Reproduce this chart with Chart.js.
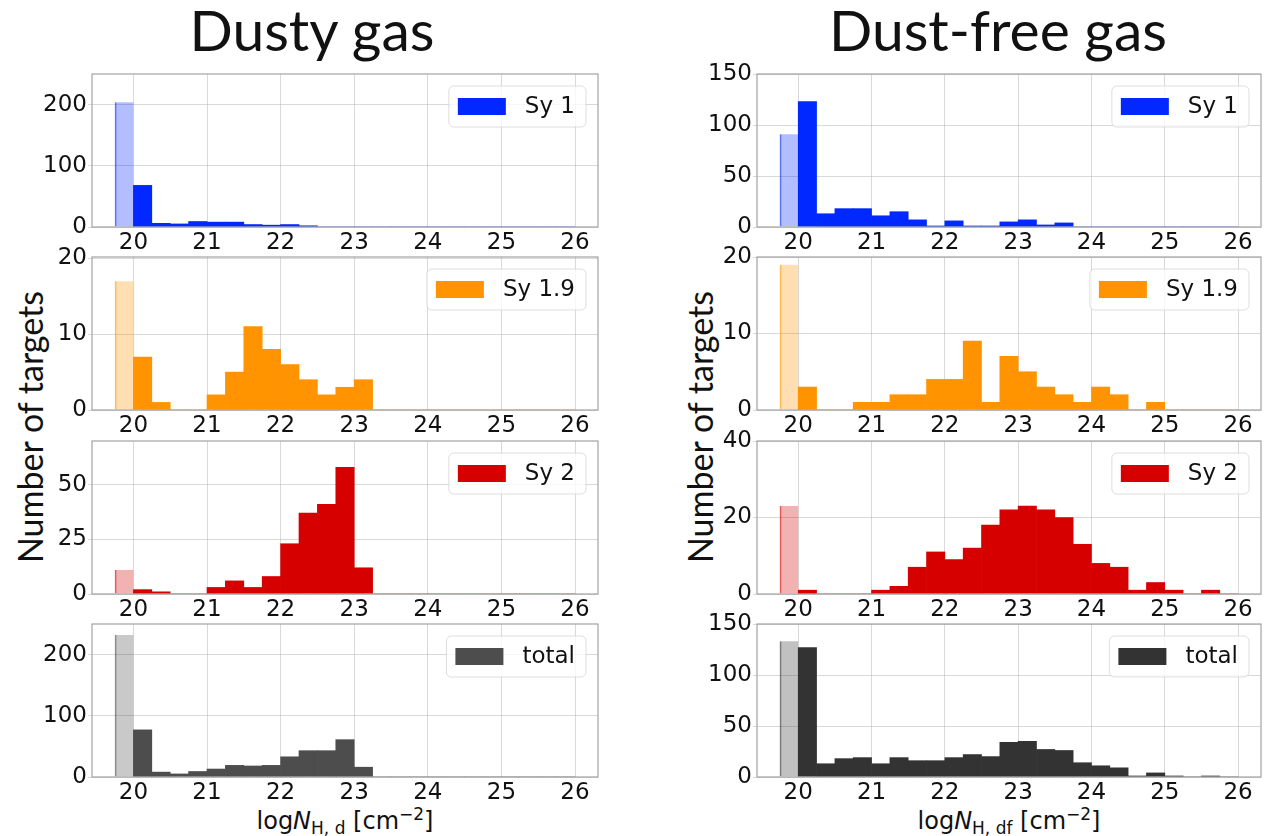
<!DOCTYPE html>
<html lang="en">
<head>
<meta charset="UTF-8">
<title>Column density histograms</title>
<script src="https://cdn.jsdelivr.net/npm/chart.js"></script>
<style>
    body {
        margin: 0;
        width: 1270px;
        height: 836px;
        position: relative;
        overflow: hidden;
        background: #fff;
        font-family: "DejaVu Sans", sans-serif;
        color: #111;
    }
    canvas { position: absolute; }
    .title {
        position: absolute;
        top: 1px;
        font-family: Lato, sans-serif;
        font-size: 57px;
        line-height: 57px;
        transform: translateX(-50%);
        white-space: nowrap;
    }
    .ylabel {
        position: absolute;
        font-family: Lato, sans-serif;
        font-size: 34px;
        line-height: 34px;
        transform: translate(-50%, -50%) rotate(-90deg);
        white-space: nowrap;
    }
    .xlabel {
        position: absolute;
        top: 799px;
        font-size: 24px;
        line-height: 30px;
        transform: translateX(-50%);
        white-space: nowrap;
    }
    .xlabel sub { font-size: 17px; vertical-align: -5px; }
    .xlabel sup { font-size: 17px; vertical-align: 9px; }
</style>
</head>
<body>
<div class="title" style="left:312px">Dusty gas</div>
<div class="title" style="left:998px">Dust-free gas</div>
<div class="ylabel" style="left:30px; top:427px">Number of targets</div>
<div class="ylabel" style="left:700px; top:427px">Number of targets</div>
<div class="xlabel" style="left:345px">log<i>N</i><sub>H, d</sub> [cm<sup>&minus;2</sup>]</div>
<div class="xlabel" style="left:1009px">log<i>N</i><sub>H, df</sub> [cm<sup>&minus;2</sup>]</div>

<script>
// histogram bins (0.25 dex), first bin holds the sources at the lower bound
const binEdges = [19.75, 20.0, 20.25, 20.5, 20.75, 21.0, 21.25, 21.5, 21.75, 22.0, 22.25, 22.5, 22.75,
                  23.0, 23.25, 23.5, 23.75, 24.0, 24.25, 24.5, 24.75, 25.0, 25.25, 25.5, 25.75, 26.0];
const xTickValues = [20, 21, 22, 23, 24, 25, 26];
const xRange = [19.4375, 26.3125];

const seriesLabels = ['Sy 1', 'Sy 1.9', 'Sy 2', 'total'];

// counts in the lowest bin (19.75-20), per class
const lowestBinDusty = [204, 17, 11, 232];
const lowestBinFree = [91, 19, 23, 133];

// counts in the bins from 20.0 to 26.0, dusty gas
const sy1Dusty   = [68, 6, 5, 9, 8, 8, 4, 3, 4, 2, 0, 0, 0, 0, 0, 0, 0, 0, 0, 0, 0, 0, 0, 0];
const sy19Dusty  = [7, 1, 0, 0, 2, 5, 11, 8, 6, 4, 2, 3, 4, 0, 0, 0, 0, 0, 0, 0, 0, 0, 0, 0];
const sy2Dusty   = [2, 1, 0, 0, 3, 6, 3, 8, 23, 37, 41, 58, 12, 0, 0, 0, 0, 0, 0, 0, 0, 0, 0, 0];
const totalDusty = [77, 8, 5, 9, 13, 19, 18, 19, 33, 43, 43, 61, 16, 0, 0, 0, 0, 0, 0, 0, 0, 0, 0, 0];

// same bins, dust-free gas
const sy1Free   = [123, 13, 18, 18, 11, 15, 7, 1, 6, 1, 1, 5, 7, 2, 4, 0, 0, 0, 0, 0, 0, 0, 0, 0];
const sy19Free  = [3, 0, 0, 1, 1, 2, 2, 4, 4, 9, 1, 7, 5, 3, 2, 1, 3, 2, 0, 1, 0, 0, 0, 0];
const sy2Free   = [1, 0, 0, 0, 1, 2, 7, 11, 9, 12, 18, 22, 23, 22, 20, 13, 8, 7, 1, 3, 1, 0, 1, 0];
const totalFree = [127, 13, 18, 19, 13, 19, 16, 16, 19, 22, 20, 34, 35, 27, 26, 14, 11, 9, 1, 4, 1, 0, 1, 0];

// y tick labels and upper limits per row
const yTicksDusty = [[0, 100, 200], [0, 10, 20], [0, 25, 50], [0, 100, 200]];
const yMaxDusty = [250, 20.2, 70, 250];
const yTicksFree = [[0, 50, 100, 150], [0, 10, 20], [0, 20, 40], [0, 50, 100, 150]];
const yMaxFree = [150, 20, 40, 150];

const colorsDusty = ['0,40,255', '255,148,0', '214,0,0', '77,77,77'];
const colorsFree = ['0,40,255', '255,148,0', '214,0,0', '51,51,51'];

const rowTops = [74, 257, 441, 624];
const plotHeight = 153;
const columns = [
    { left: 92, width: 506, lowest: lowestBinDusty, series: [sy1Dusty, sy19Dusty, sy2Dusty, totalDusty],
      yTicks: yTicksDusty, yMax: yMaxDusty, colors: colorsDusty },
    { left: 757, width: 504, lowest: lowestBinFree, series: [sy1Free, sy19Free, sy2Free, totalFree],
      yTicks: yTicksFree, yMax: yMaxFree, colors: colorsFree }
];

const PAD_L = 80, PAD_T = 16, PAD_R = 14, PAD_B = 34;
const tickFont = { family: 'DejaVu Sans', size: 23, lineHeight: 1 };
const gridColor = 'rgba(170,170,170,0.45)';

// legend box drawn inside the plot, upper right, plus the frame round the axes
const framePlugin = {
    id: 'frameAndLegend',
    afterDraw(chart) {
        const ctx = chart.ctx;
        const a = chart.chartArea;
        ctx.save();
        ctx.strokeStyle = '#a3a3a3';
        ctx.lineWidth = 1.2;
        ctx.strokeRect(a.left, a.top, a.right - a.left, a.bottom - a.top);

        const ds = chart.data.datasets[1];
        ctx.font = '23px "DejaVu Sans"';
        const tw = ctx.measureText(ds.label).width;
        const w = 9 + 48 + 19 + tw + 11, h = 41;
        const x = a.right - 12 - w, y = a.top + 12;
        ctx.beginPath();
        ctx.roundRect(x, y, w, h, 5);
        ctx.fillStyle = 'rgba(255,255,255,0.8)';
        ctx.fill();
        ctx.strokeStyle = 'rgba(200,200,200,0.6)';
        ctx.lineWidth = 1;
        ctx.stroke();
        ctx.fillStyle = ds.backgroundColor;
        ctx.fillRect(x + 9, y + h / 2 - 8.5, 48, 17);
        ctx.fillStyle = '#111';
        ctx.textBaseline = 'middle';
        ctx.fillText(ds.label, x + 9 + 48 + 19, y + h / 2 + 1);
        ctx.restore();
    }
};

function binCentre(i) {
    return (binEdges[i] + binEdges[i + 1]) / 2;
}

function makePanel(col, row) {
    const canvas = document.createElement('canvas');
    const w = PAD_L + col.width + PAD_R;
    const h = PAD_T + plotHeight + PAD_B;
    canvas.width = w;
    canvas.height = h;
    canvas.style.left = (col.left - PAD_L) + 'px';
    canvas.style.top = (rowTops[row] - PAD_T) + 'px';
    document.body.appendChild(canvas);

    const rgb = col.colors[row];
    const lowest = [{ x: binCentre(0), y: col.lowest[row] }];
    const counts = col.series[row].map((v, i) => ({ x: binCentre(i + 1), y: v }));
    const yTicks = col.yTicks[row];

    new Chart(canvas, {
        type: 'bar',
        data: {
            datasets: [
                {
                    label: '',
                    data: lowest,
                    backgroundColor: 'rgba(' + rgb + ',0.3)',
                    borderColor: 'rgba(' + rgb + ',0.6)',
                    borderWidth: { left: 1, top: 0, right: 0, bottom: 0 },
                    borderSkipped: false,
                    grouped: false,
                    barPercentage: 1,
                    categoryPercentage: 1
                },
                {
                    label: seriesLabels[row],
                    data: counts,
                    backgroundColor: 'rgb(' + rgb + ')',
                    borderWidth: 0,
                    grouped: false,
                    barPercentage: 1,
                    categoryPercentage: 1
                }
            ]
        },
        options: {
            responsive: false,
            animation: false,
            devicePixelRatio: 1,
            layout: { padding: { left: 0, top: PAD_T, right: PAD_R, bottom: 0 } },
            plugins: { legend: { display: false }, tooltip: { enabled: false } },
            scales: {
                x: {
                    type: 'linear',
                    min: xRange[0],
                    max: xRange[1],
                    offset: false,
                    z: 1,
                    grid: { color: gridColor, offset: false, drawTicks: false },
                    border: { display: false },
                    ticks: { font: tickFont, color: '#111', padding: 5, maxRotation: 0 },
                    afterBuildTicks: s => { s.ticks = xTickValues.map(v => ({ value: v })); },
                    afterFit: s => { s.height = PAD_B; }
                },
                y: {
                    min: 0,
                    max: col.yMax[row],
                    z: 1,
                    grid: { color: gridColor, tickLength: 4 },
                    border: { display: false },
                    ticks: { font: tickFont, color: '#111', padding: 1 },
                    afterBuildTicks: s => { s.ticks = yTicks.map(v => ({ value: v })); },
                    afterFit: s => { s.width = PAD_L; }
                }
            }
        },
        plugins: [framePlugin]
    });
}

columns.forEach(col => {
    for (let r = 0; r < 4; r++) makePanel(col, r);
});
</script>
</body>
</html>
